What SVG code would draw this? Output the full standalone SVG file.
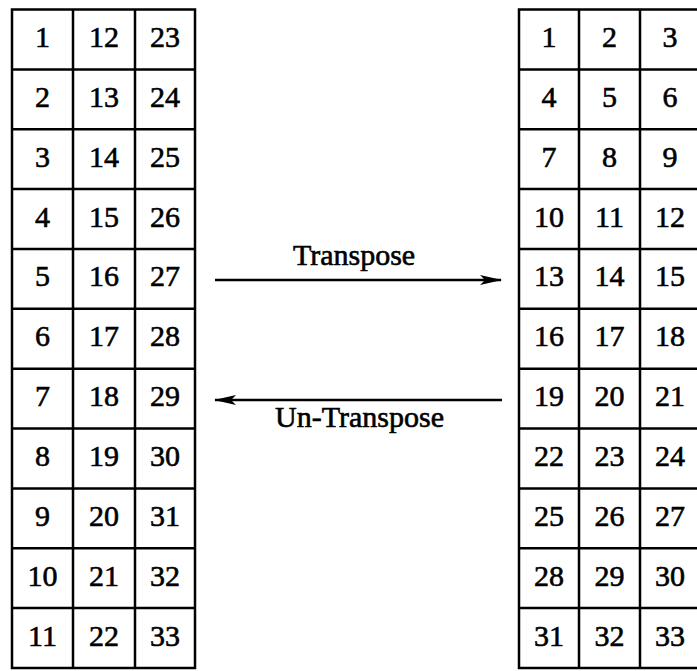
<svg xmlns="http://www.w3.org/2000/svg" width="697" height="671" viewBox="0 0 697 671">
<style>
.g{fill:none;stroke:#000;stroke-width:2.5}
.t{font-family:"Liberation Serif","Times New Roman",serif;font-size:30px;fill:#000;stroke:#000;stroke-width:0.6;text-anchor:middle}
.c{stroke:#000;stroke-width:2.5;fill:none}
</style>
<defs>
<marker id="ah" markerUnits="userSpaceOnUse" markerWidth="22" markerHeight="12" refX="21" refY="6" orient="auto">
<path d="M0,1 L22,6 L0,11 L5,6 z" fill="#000"/>
</marker>
</defs>
<rect width="697" height="671" fill="#fff"/>
<g id="left-grid">
<rect class="g" x="12" y="9.5" width="183" height="658.5"/>
<path class="g" d="M73,9.5V668M135,9.5V668M12,69.4H195M12,129.2H195M12,189.1H195M12,248.9H195M12,308.8H195M12,368.7H195M12,428.5H195M12,488.4H195M12,548.2H195M12,608.1H195"/>
<g class="t">
<text x="42.5" y="47">1</text><text x="104" y="47">12</text><text x="165" y="47">23</text>
<text x="42.5" y="106.9">2</text><text x="104" y="106.9">13</text><text x="165" y="106.9">24</text>
<text x="42.5" y="166.7">3</text><text x="104" y="166.7">14</text><text x="165" y="166.7">25</text>
<text x="42.5" y="226.6">4</text><text x="104" y="226.6">15</text><text x="165" y="226.6">26</text>
<text x="42.5" y="286.4">5</text><text x="104" y="286.4">16</text><text x="165" y="286.4">27</text>
<text x="42.5" y="346.3">6</text><text x="104" y="346.3">17</text><text x="165" y="346.3">28</text>
<text x="42.5" y="406.2">7</text><text x="104" y="406.2">18</text><text x="165" y="406.2">29</text>
<text x="42.5" y="466">8</text><text x="104" y="466">19</text><text x="165" y="466">30</text>
<text x="42.5" y="525.9">9</text><text x="104" y="525.9">20</text><text x="165" y="525.9">31</text>
<text x="42.5" y="585.7">10</text><text x="104" y="585.7">21</text><text x="165" y="585.7">32</text>
<text x="42.5" y="645.6">11</text><text x="104" y="645.6">22</text><text x="165" y="645.6">33</text>
</g>
</g>
<g id="right-grid">
<rect class="g" x="519" y="9.5" width="183" height="658.5"/>
<path class="g" d="M579,9.5V668M640,9.5V668M519,69.4H702M519,129.2H702M519,189.1H702M519,248.9H702M519,308.8H702M519,368.7H702M519,428.5H702M519,488.4H702M519,548.2H702M519,608.1H702"/>
<g class="t">
<text x="549" y="47">1</text><text x="609.5" y="47">2</text><text x="670" y="47">3</text>
<text x="549" y="106.9">4</text><text x="609.5" y="106.9">5</text><text x="670" y="106.9">6</text>
<text x="549" y="166.7">7</text><text x="609.5" y="166.7">8</text><text x="670" y="166.7">9</text>
<text x="549" y="226.6">10</text><text x="609.5" y="226.6">11</text><text x="670" y="226.6">12</text>
<text x="549" y="286.4">13</text><text x="609.5" y="286.4">14</text><text x="670" y="286.4">15</text>
<text x="549" y="346.3">16</text><text x="609.5" y="346.3">17</text><text x="670" y="346.3">18</text>
<text x="549" y="406.2">19</text><text x="609.5" y="406.2">20</text><text x="670" y="406.2">21</text>
<text x="549" y="466">22</text><text x="609.5" y="466">23</text><text x="670" y="466">24</text>
<text x="549" y="525.9">25</text><text x="609.5" y="525.9">26</text><text x="670" y="525.9">27</text>
<text x="549" y="585.7">28</text><text x="609.5" y="585.7">29</text><text x="670" y="585.7">30</text>
<text x="549" y="645.6">31</text><text x="609.5" y="645.6">32</text><text x="670" y="645.6">33</text>
</g>
</g>
<g id="connectors">
<line class="c" x1="215" y1="280" x2="501" y2="280" marker-end="url(#ah)"/>
<line class="c" x1="502" y1="400" x2="215" y2="400" marker-end="url(#ah)"/>
<text class="t" x="354" y="265">Transpose</text>
<text class="t" x="359.5" y="427">Un-Transpose</text>
</g>
</svg>
